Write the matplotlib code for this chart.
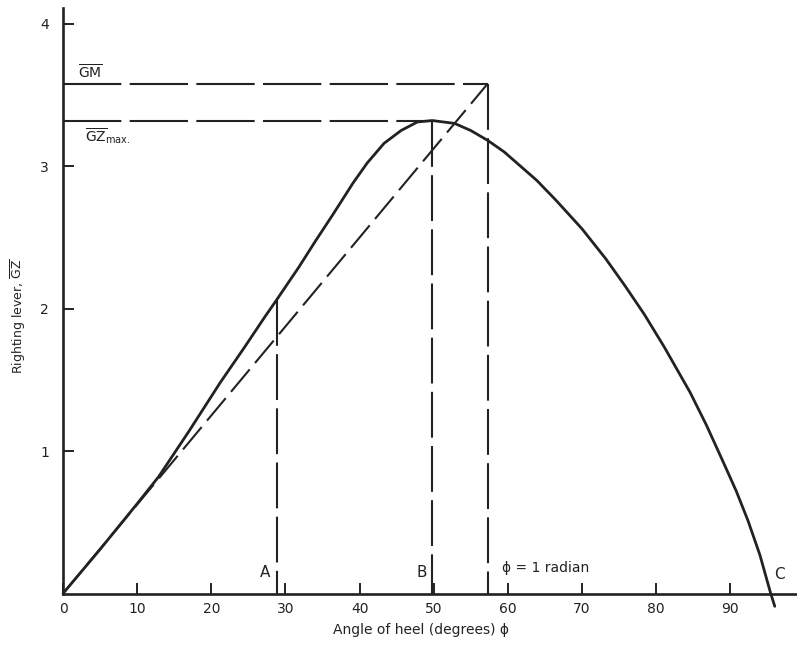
import matplotlib
matplotlib.use("Agg")
import matplotlib.pyplot as plt

# GZ curve (angle of heel in degrees, righting lever)
heel = [0, 5, 10, 12.9, 17, 21.2, 24.5, 27.2, 28.8, 31.8, 34.0, 36.4, 39.1, 41.0,
        43.3, 45.6, 47.8, 49.8, 52.8, 55.0, 57.3, 59.5, 63.9, 66.5, 70.0, 73.2,
        75.8, 78.4, 81.1, 84.6, 86.8, 88.9, 90.8, 92.4, 94.0, 95.4, 96.0]
gz = [0, 0.31, 0.63, 0.82, 1.14, 1.48, 1.73, 1.94, 2.06, 2.29, 2.47, 2.66, 2.88, 3.02,
      3.16, 3.25, 3.31, 3.32, 3.30, 3.25, 3.18, 3.10, 2.90, 2.76, 2.56, 2.35,
      2.16, 1.96, 1.73, 1.41, 1.18, 0.94, 0.72, 0.51, 0.27, 0.01, -0.09]

gm = 3.58            # metacentric height
gz_max = 3.32
phi_max = 49.8       # B
phi_a = 28.8         # A
gz_a = 2.06
radian = 57.3        # phi = 1 radian

xticks = [0, 10, 20, 30, 40, 50, 60, 70, 80, 90]
yticks = [1, 2, 3, 4]

ink = "#222222"

fig = plt.figure(figsize=(7.97, 6.48), dpi=100)
ax = fig.add_axes([63 / 797, 1 - 593.5 / 648, 734 / 797, 585.5 / 648])
ax.set_xlim(0, 99)
ax.set_ylim(0, 4.11)

for s in ["top", "right"]:
    ax.spines[s].set_visible(False)
for s in ["left", "bottom"]:
    ax.spines[s].set_linewidth(1.9)
    ax.spines[s].set_color(ink)

ax.set_xticks(xticks)
ax.set_yticks(yticks)
ax.tick_params(direction="in", length=8, width=1.4, color=ink, labelcolor=ink, labelsize=10)
ax.tick_params(axis="x", pad=6)
ax.tick_params(axis="y", pad=10)

lw_d = 1.5
hdash = (0, (28, 4))
vdash = (0, (22, 4))

# GZ curve
ax.plot(heel, gz, color=ink, lw=2.0, clip_on=False, solid_capstyle="round",
        solid_joinstyle="round")

# tangent at origin, slope GM per radian
ax.plot([0, radian], [0, gm], color=ink, lw=lw_d, ls=(0, (14, 4)))

# horizontal GM and GZmax lines
ax.plot([0, radian], [gm, gm], color=ink, lw=lw_d, ls=hdash)
ax.plot([0, phi_max], [gz_max, gz_max], color=ink, lw=lw_d, ls=hdash)

# verticals A, B, 1 radian
ax.plot([phi_a, phi_a], [gz_a, 0], color=ink, lw=lw_d, ls=vdash)
ax.plot([phi_max, phi_max], [gz_max, 0], color=ink, lw=lw_d, ls=vdash)
ax.plot([radian, radian], [gm, 0], color=ink, lw=lw_d, ls=vdash)

ax.text(27.2, 0.15, "A", fontsize=11, color=ink, ha="center", va="center")
ax.text(48.4, 0.15, "B", fontsize=11, color=ink, ha="center", va="center")
ax.text(59.2, 0.18, "\u03d5 = 1 radian", fontsize=10, color=ink, ha="left", va="center")
ax.text(96.6, 0.13, "C", fontsize=11, color=ink, ha="center", va="center")

ax.text(2.0, 3.66, r"$\overline{\mathrm{GM}}$", fontsize=10, color=ink, ha="left", va="center")
ax.text(3.0, 3.21, r"$\overline{\mathrm{GZ}}_{\mathrm{max.}}$", fontsize=10, color=ink,
        ha="left", va="center")

fig.text(18 / 797, 1 - 316 / 648, r"Righting lever, $\overline{\mathrm{GZ}}$", rotation=90,
         fontsize=9, color=ink, ha="center", va="center")
fig.text(421 / 797, 1 - 630 / 648, "Angle of heel (degrees) \u03d5", fontsize=10,
         color=ink, ha="center", va="center")

fig.savefig("out.png", dpi=100)
